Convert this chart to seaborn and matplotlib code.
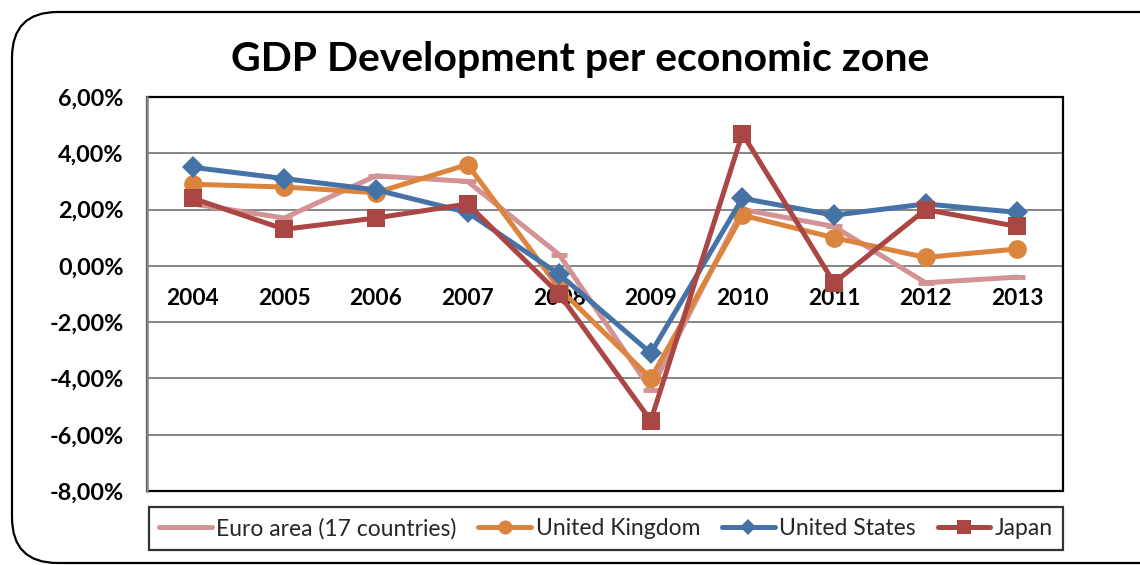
import matplotlib
matplotlib.use("Agg")
import matplotlib.pyplot as plt
import seaborn as sns
import pandas as pd
from matplotlib.patches import FancyBboxPatch, Rectangle
from matplotlib.ticker import FuncFormatter, FixedLocator

# GDP growth per economic zone, in percent
years = [2004, 2005, 2006, 2007, 2008, 2009, 2010, 2011, 2012, 2013]
euro_area = [2.2, 1.7, 3.2, 3.0, 0.4, -4.4, 2.0, 1.4, -0.6, -0.4]
united_kingdom = [2.9, 2.8, 2.6, 3.6, -0.8, -4.0, 1.8, 1.0, 0.3, 0.6]
united_states = [3.5, 3.1, 2.7, 1.9, -0.3, -3.1, 2.4, 1.8, 2.2, 1.9]
japan = [2.4, 1.3, 1.7, 2.2, -1.0, -5.5, 4.7, -0.6, 2.0, 1.4]

series_names = ["Euro area (17 countries)", "United Kingdom", "United States", "Japan"]
y_ticks = [6, 4, 2, 0, -2, -4, -6, -8]
title = "GDP Development per economic zone"

sns.set_theme(style="white")
plt.rcParams["font.family"] = ["Lato", "DejaVu Sans"]

fig = plt.figure(figsize=(11.4, 5.65), dpi=100)
W, H = 1140, 565

# rounded chart frame (runs past the right edge)
frame = FancyBboxPatch((12 / W, 2 / H), 1.2, 551 / H,
                       boxstyle="round,pad=0,rounding_size=0.04",
                       transform=fig.transFigure, fill=False,
                       edgecolor="black", linewidth=1.6, mutation_aspect=W / H)
fig.patches.append(frame)

ax = fig.add_axes([147 / W, 1 - 491 / H, (1063 - 147) / W, (491 - 97) / H])

styles = {
    "Euro area (17 countries)": dict(color="#D39294", marker="_", markersize=12,
                                     markeredgewidth=3.5),
    "United Kingdom": dict(color="#DB843D", marker="o", markersize=13.5,
                           markeredgewidth=0),
    "United States": dict(color="#4572A7", marker="D", markersize=11.5,
                          markeredgewidth=0),
    "Japan": dict(color="#AA4643", marker="s", markersize=13,
                  markeredgewidth=0),
}
values = [euro_area, united_kingdom, united_states, japan]

for name, vals in zip(series_names, values):
    df = pd.DataFrame({"year": years, "growth": vals})
    st = styles[name]
    sns.lineplot(data=df, x="year", y="growth", ax=ax, label=name,
                 linewidth=3.6, color=st["color"], marker=st["marker"],
                 markersize=st["markersize"], markeredgewidth=st["markeredgewidth"],
                 markeredgecolor=st["color"], markerfacecolor=st["color"],
                 legend=False)

ax.set_xlim(years[0] - 0.5, years[-1] + 0.5)
ax.set_ylim(-8, 6)
ax.yaxis.set_major_locator(FixedLocator(y_ticks))
ax.yaxis.set_major_formatter(FuncFormatter(lambda v, p: f"{v:.2f}%".replace(".", ",")))
ax.set_xticks(years)
ax.set_xticklabels([str(y) for y in years])
ax.set_xlabel("")
ax.set_ylabel("")

ax.grid(axis="y", color="#868686", linewidth=1.4)
ax.grid(axis="x", visible=False)
ax.set_axisbelow(True)

for s in ["top", "right"]:
    ax.spines[s].set_visible(False)
ax.spines["bottom"].set_position(("data", 0))
ax.spines["bottom"].set_visible(False)
ax.spines["left"].set_color("#868686")
ax.spines["left"].set_linewidth(1.8)
ax.spines["left"].set_zorder(5)
ax.add_patch(Rectangle((0, 0), 1, 1, transform=ax.transAxes, fill=False,
                       edgecolor="black", linewidth=1.6, clip_on=False, zorder=4))

ax.tick_params(axis="y", length=0, pad=17, labelsize=16.8)
ax.tick_params(axis="x", length=0, pad=16, labelsize=16.3)
for lab in ax.get_xticklabels() + ax.get_yticklabels():
    lab.set_fontweight("bold")
    lab.set_color("black")

fig.text(580 / W, 1 - 60 / H, title, ha="center", va="center",
         fontsize=29.5, fontweight="bold", color="black")

handles = [plt.Line2D([], [], color=styles[n]["color"], linewidth=3.6,
                      marker=styles[n]["marker"] if n != "Euro area (17 countries)" else None,
                      markersize=styles[n]["markersize"] * 0.75,
                      markeredgewidth=0) for n in series_names]
leg = fig.legend(handles, series_names, loc="center",
                 bbox_to_anchor=(606 / W, 1 - 528.5 / H), ncol=4,
                 fontsize=16.5, frameon=True, fancybox=False,
                 handlelength=2.3, handletextpad=0.2, columnspacing=0.95,
                 borderpad=0.45)
leg.get_frame().set_edgecolor("black")
leg.get_frame().set_linewidth(1.6)

fig.savefig("out.png", dpi=100)
